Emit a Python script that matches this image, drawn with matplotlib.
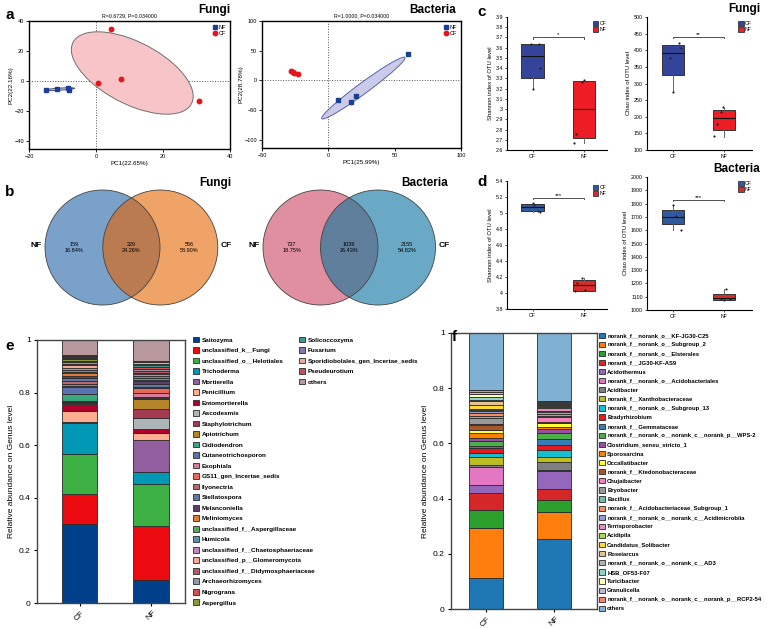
import numpy as np
import matplotlib.pyplot as plt
from matplotlib.patches import Ellipse, Circle, Patch

plt.rcParams['font.family'] = ['Liberation Sans', 'DejaVu Sans']

W, H = 767, 628

# ---------------- data ----------------
# a: PCA scores
fungi_nf_pc = np.array([[-15, -6], [-11.6, -5.1], [-8.5, -4.4], [-8, -5.5]])
fungi_cf_pc = np.array([[4.6, 34.4], [0.7, -0.9], [7.4, 1.3], [30.6, -12.9]])
bact_nf_pc = np.array([[60.3, 44.6], [7.5, -33], [16.8, -37], [20.9, -26.5]])
bact_cf_pc = np.array([[-28.5, 15], [-27, 13.5], [-26, 12.5], [-22.5, 10.8]])

# b: venn counts (NF only, shared, CF only)
fungi_venn = [159, 229, 556]
bact_venn = [737, 1039, 2155]

# c/d: box stats (q1, med, q3, whislo, whishi) and sample points
groups = ["CF", "NF"]
fungi_shannon_box = [[3.30, 3.52, 3.635, 3.20, 3.64], [2.715, 3.005, 3.27, 2.67, 3.28]]
fungi_shannon_pts = [[3.64, 3.64, 3.40, 3.20], [3.28, 3.265, 2.755, 2.67]]
fungi_chao_box = [[326, 391, 416, 275, 416], [160, 195, 221, 140, 225]]
fungi_chao_pts = [[422, 407, 376, 275], [230, 213, 178, 141]]
bact_shannon_box = [[5.03, 5.075, 5.11, 5.01, 5.12], [4.03, 4.10, 4.165, 4.02, 4.19]]
bact_shannon_pts = [[5.12, 5.10, 5.02, 5.01], [4.19, 4.13, 4.04, 4.025]]
bact_chao_box = [[1648, 1703, 1749, 1603, 1789], [1075, 1090, 1118, 1075, 1158]]
bact_chao_pts = [[1789, 1709, 1699, 1603], [1158, 1083, 1078, 1080]]
signif = ["*", "**", "***", "***"]

# e: fungal genera
fungi_genera = ["Saitozyma", "unclassified_k__Fungi", "unclassified_o__Helotiales", "Trichoderma",
                "Mortierella", "Penicillium", "Entomortierella", "Ascodesmis", "Staphylotrichum",
                "Apiotrichum", "Oidiodendron", "Cutaneotrichosporon", "Exophiala",
                "GS11_gen_Incertae_sedis", "Ilyonectria", "Stellatospora", "Melanconiella",
                "Meliniomyces", "unclassified_f__Aspergillaceae", "Humicola",
                "unclassified_f__Chaetosphaeriaceae", "unclassified_p__Glomeromycota",
                "unclassified_f__Didymosphaeriaceae", "Archaeorhizomyces", "Nigrograna",
                "Aspergillus", "Solicoccozyma", "Fusarium", "Sporidiobolales_gen_Incertae_sedis",
                "Pseudeurotium", "others"]
fungi_cf = [0.302, 0.111, 0.153, 0.120, 0.002, 0.043, 0.025, 0.003, 0.006, 0.002, 0.029, 0.024,
            0.005, 0.006, 0.014, 0.012, 0.006, 0.011, 0.006, 0.006, 0.009, 0.009, 0.005, 0.006,
            0.005, 0.006, 0.004, 0.004, 0.004, 0.004, 0.058]
fungi_nf = [0.089, 0.203, 0.160, 0.045, 0.121, 0.028, 0.017, 0.042, 0.033, 0.039, 0.003, 0.005,
            0.015, 0.016, 0.007, 0.009, 0.011, 0.004, 0.007, 0.009, 0.006, 0.005, 0.007, 0.007,
            0.008, 0.003, 0.007, 0.004, 0.005, 0.007, 0.078]
fungi_colors = ["#003f8a", "#ea0a0f", "#3db043", "#0098b5", "#925e9f", "#fdae91", "#ad002a",
                "#adb6b6", "#a33a52", "#b5852a", "#3aa67b", "#5a72b0", "#d47c99", "#e8685a",
                "#b8696a", "#6278a8", "#5b3f6b", "#e07b39", "#58a866", "#5a90b0", "#b889b8",
                "#f4a79a", "#b05a6a", "#8e98aa", "#d45050", "#8a9a38", "#3f9a94", "#8a75b0",
                "#eaa8a8", "#c05060", "#b89a9e"]

# f: bacterial genera
bact_genera = ["norank_f__norank_o__KF-JG30-C25", "norank_f__norank_o__Subgroup_2",
               "norank_f__norank_o__Elsterales", "norank_f__JG30-KF-AS9", "Acidothermus",
               "norank_f__norank_o__Acidobacteriales", "Acidibacter", "norank_f__Xanthobacteraceae",
               "norank_f__norank_o__Subgroup_13", "Bradyrhizobium", "norank_f__Gemmataceae",
               "norank_f__norank_o__norank_c__norank_p__WPS-2", "Clostridium_sensu_stricto_1",
               "Sporosarcina", "Occallatibacter", "norank_f__Ktedonobacteraceae", "Chujaibacter",
               "Bryobacter", "Bacillus", "norank_f__Acidobacteriaceae_Subgroup_1",
               "norank_f__norank_o__norank_c__Acidimicrobiia", "Terrisporobacter", "Acidipila",
               "Candidatus_Solibacter", "Roseiarcus", "norank_f__norank_o__norank_c__AD3",
               "HSB_OF53-F07", "Turicibacter", "Granulicella",
               "norank_f__norank_o__norank_c__norank_p__RCP2-54", "others"]
bact_cf = [0.114, 0.181, 0.062, 0.063, 0.028, 0.065, 0.008, 0.029, 0.014, 0.020, 0.008, 0.016,
           0.010, 0.020, 0.011, 0.018, 0.004, 0.020, 0.010, 0.008, 0.008, 0.003, 0.004, 0.016,
           0.014, 0.004, 0.010, 0.010, 0.008, 0.006, 0.208]
bact_nf = [0.254, 0.098, 0.043, 0.041, 0.065, 0.002, 0.031, 0.018, 0.024, 0.017, 0.024, 0.019,
           0.015, 0.008, 0.014, 0.004, 0.018, 0.004, 0.008, 0.007, 0.004, 0.009, 0.006, 0.004,
           0.003, 0.004, 0.003, 0.002, 0.004, 0.002, 0.245]
bact_colors = ["#1f77b4", "#ff7f0e", "#2ca02c", "#d62728", "#9467bd", "#e377c2", "#7f7f7f",
               "#bcbd22", "#17becf", "#e41a1c", "#377eb8", "#4daf4a", "#984ea3", "#ff7f00",
               "#ffff33", "#a65628", "#f781bf", "#999999", "#66c2a5", "#fc8d62", "#8da0cb",
               "#e78ac3", "#a6d854", "#ffd92f", "#e5c494", "#b3b3b3", "#8dd3c7", "#ffffb3",
               "#bebada", "#fb8072", "#80b1d3"]


def ax_px(l, t, r, b):
    return fig.add_axes([l / W, 1 - b / H, (r - l) / W, (b - t) / H])


def conf_ellipse(ax, pts, fc, ec, k=1.35):
    c = pts.mean(axis=0)
    vals, vecs = np.linalg.eigh(np.cov(pts.T))
    ang = np.degrees(np.arctan2(vecs[1, 1], vecs[0, 1]))
    e = Ellipse(c, 2 * k * np.sqrt(vals[1]), 2 * k * np.sqrt(vals[0]), angle=ang,
                facecolor=fc, edgecolor=ec, lw=0.7, zorder=1)
    ax.add_patch(e)


fig = plt.figure(figsize=(W / 100, H / 100), dpi=100)

# ---------------- a ----------------
pca_sets = [
    ((29, 21, 230, 149), fungi_nf_pc, fungi_cf_pc, (-20, 40), (-45, 40), [-20, 0, 20, 40],
     [-40, -20, 0, 20, 40], "PC1(22.65%)", "PC2(22.16%)", "R=0.6729, P=0.034000",
     ("#c6cbe0", "#4a5070"), ("#f7c5c8", "#707070")),
    ((262, 21, 461, 148), bact_nf_pc, bact_cf_pc, (-50, 100), (-114, 100), [-50, 0, 50, 100],
     [-100, -50, 0, 50, 100], "PC1(25.99%)", "PC2(28.78%)", "R=1.0000, P=0.034000",
     ("#c9cbe9", "#5b62ad"), ("#f0c0c5", "#a05060")),
]
for box, nf, cf, xl, yl, xt, yt, xlab, ylab, ttl, nf_el, cf_el in pca_sets:
    ax = ax_px(*box)
    conf_ellipse(ax, nf, *nf_el)
    conf_ellipse(ax, cf, *cf_el)
    ax.axhline(0, color="#555555", ls=":", lw=0.7, zorder=0)
    ax.axvline(0, color="#555555", ls=":", lw=0.7, zorder=0)
    ax.plot(nf[:, 0], nf[:, 1], "s", color="#1c3f94", ms=3, label="NF", zorder=3)
    ax.plot(cf[:, 0], cf[:, 1], "o", color="#e8141b", ms=3.2, label="CF", zorder=3)
    ax.set_xlim(*xl)
    ax.set_ylim(*yl)
    ax.set_xticks(xt)
    ax.set_yticks(yt)
    ax.tick_params(labelsize=4, length=2, width=0.6, pad=1.5)
    ax.set_xlabel(xlab, fontsize=4.5, labelpad=1.5)
    ax.set_ylabel(ylab, fontsize=4.5, labelpad=1)
    ax.set_title(ttl, fontsize=3.8, pad=3)
    for s in ax.spines.values():
        s.set_linewidth(1.0)
    ax.legend(loc="upper right", fontsize=4, frameon=False, handletextpad=0.1,
              borderaxespad=0.3, labelspacing=0.2, handlelength=1)

# ---------------- b ----------------
axv = ax_px(0, 170, 460, 330)
axv.set_xlim(0, 460)
axv.set_ylim(330, 170)
axv.set_aspect("equal")
axv.axis("off")
venn_sets = [(fungi_venn, 102.5, 160.3, "#7aa1c9", "#efa366", "#b97b4f"),
             (bact_venn, 320.5, 378, "#df8f9f", "#69a9c6", "#5f7f9c")]
for counts, x1, x2, c1, c2, c12 in venn_sets:
    cy, r = 247.5, 57.5
    total = sum(counts)
    circ1 = Circle((x1, cy), r, facecolor=c1, edgecolor="none")
    circ2 = Circle((x2, cy), r, facecolor=c2, edgecolor="none")
    axv.add_patch(circ1)
    axv.add_patch(circ2)
    inter = Circle((x2, cy), r, facecolor=c12, edgecolor="none")
    axv.add_patch(inter)
    inter.set_clip_path(circ1)
    for xc in (x1, x2):
        axv.add_patch(Circle((xc, cy), r, fill=False, edgecolor="#444444", lw=0.6))
    xs = [(x1 - r + x2 - r) / 2, (x1 + x2) / 2, (x1 + r + x2 + r) / 2]
    for xx, n in zip(xs, counts):
        axv.text(xx, cy, f"{n}\n{n / total * 100:.2f}%", ha="center", va="center",
                 fontsize=4, linespacing=1.1)
    axv.text(x1 - r - 3, cy - 2, "NF", ha="right", va="center", fontsize=6, weight="bold")
    axv.text(x2 + r + 3, cy - 2, "CF", ha="left", va="center", fontsize=6, weight="bold")

# ---------------- c / d ----------------
box_sets = [
    ((507, 17, 607, 150), fungi_shannon_box, fungi_shannon_pts, (2.6, 3.9), np.arange(2.6, 3.95, 0.1),
     "Shannon index of OTU level", 3.70, 0.012, [[-0.04, 0.12, 0.15, 0.0], [0.01, -0.03, -0.15, -0.2]],
     ("#34449a", "#ee1c24"), (0.5, 2.45)),
    ((647, 17, 752, 150), fungi_chao_box, fungi_chao_pts, (100, 500), np.arange(100, 501, 50),
     "Chao index of OTU level", 440, 4, [[0.12, 0.16, -0.06, 0.0], [-0.01, -0.05, -0.14, -0.2]],
     ("#34449a", "#ee1c24"), (0.49, 2.55)),
    ((507, 181, 607, 309), bact_shannon_box, bact_shannon_pts, (3.8, 5.4), np.arange(3.8, 5.45, 0.2),
     "Shannon index of OTU level", 5.19, 0.015, [[0.0, 0.03, 0.11, 0.15], [-0.03, -0.13, 0.02, -0.17]],
     ("#2f5a9e", "#d62c2c"), (0.5, 2.45)),
    ((647, 177, 752, 310), bact_chao_box, bact_chao_pts, (1000, 2000), np.arange(1000, 2001, 100),
     "Chao index of OTU level", 1830, 10, [[0.0, 0.05, 0.19, 0.16], [0.04, -0.06, 0.0, 0.12]],
     ("#2f5a9e", "#d62c2c"), (0.49, 2.55)),
]
for i, (box, bstats, pts, yl, yt, ylab, sy, tick, jit, cols, xl) in enumerate(box_sets):
    ax = ax_px(*box)
    stats = [dict(q1=b[0], med=b[1], q3=b[2], whislo=b[3], whishi=b[4]) for b in bstats]
    bp = ax.bxp(stats, positions=[1, 2], widths=0.44, patch_artist=True, showfliers=False,
                showcaps=False, boxprops=dict(lw=0.7, edgecolor="#333333"),
                medianprops=dict(color="#111111", lw=0.8),
                whiskerprops=dict(color="#666666", lw=0.7))
    for patch, c in zip(bp["boxes"], cols):
        patch.set_facecolor(c)
    for j in range(2):
        ax.scatter(np.array(jit[j]) + j + 1, pts[j], s=2.5, color="#222222", zorder=4, lw=0)
    ax.plot([1, 1, 2, 2], [sy - tick, sy, sy, sy - tick], color="#333333", lw=0.6)
    ax.text(1.5, sy, signif[i], ha="center", va="bottom", fontsize=4.5)
    ax.set_ylim(*yl)
    ax.set_xlim(*xl)
    ax.set_yticks(yt)
    ax.set_yticklabels([f"{v:g}" for v in np.round(yt, 2)])
    ax.set_xticks([1, 2])
    ax.set_xticklabels(groups)
    ax.tick_params(labelsize=3.8, length=1.5, width=0.5, pad=1.5)
    ax.set_ylabel(ylab, fontsize=4.2, labelpad=2)
    ax.spines[["top", "right"]].set_visible(False)
    ax.spines[["left", "bottom"]].set_linewidth(0.8)
    handles = [Patch(facecolor=c, edgecolor="#333333", lw=0.6, label=g) for g, c in zip(groups, cols)]
    ax.legend(handles=handles, loc="upper right", fontsize=3.8, frameon=False, handlelength=1,
              handleheight=1, handletextpad=0.2, labelspacing=0.2, borderaxespad=0.1,
              bbox_to_anchor=(1.02, 0.99))


# ---------------- e ----------------
def stacked(ax, vals_cf, vals_nf, colors):
    bottoms = np.zeros(2)
    handles = []
    for a, b, c in zip(vals_cf, vals_nf, colors):
        h = ax.bar([0, 1], [a, b], bottom=bottoms, width=0.5, color=c, edgecolor="#2a2a2a", lw=0.6)
        bottoms += [a, b]
        handles.append(h)
    ax.set_ylim(0, 1)
    ax.set_yticks(np.arange(0, 1.01, 0.2))
    ax.set_yticklabels([f"{v:g}" for v in np.round(np.arange(0, 1.01, 0.2), 1)])
    ax.set_xticks([0, 1])
    ax.set_xticklabels(groups, rotation=45)
    ax.tick_params(labelsize=6, length=2.5, width=0.8, pad=2)
    ax.set_ylabel("Relative abundance on Genus level", fontsize=6, labelpad=3)
    for s in ax.spines.values():
        s.set_linewidth(1.0)
        s.set_color("#444444")
    return handles


axe = ax_px(37, 340, 185, 603)
he = stacked(axe, fungi_cf, fungi_nf, fungi_colors)
axe.set_xlim(-0.6, 1.48)
leg_kw = dict(frameon=False, handlelength=1.0, handleheight=1.0, handletextpad=0.4,
              borderpad=0, borderaxespad=0, loc="upper left")
fig.legend(he[:26], fungi_genera[:26], bbox_to_anchor=(193 / W, 1 - 336.5 / H),
           prop=dict(size=4.6, weight="bold"), labelspacing=0.7, **leg_kw)
fig.legend(he[26:], fungi_genera[26:], bbox_to_anchor=(299 / W, 1 - 336.5 / H),
           prop=dict(size=4.6, weight="bold"), labelspacing=0.7, **leg_kw)

# ---------------- f ----------------
axf = ax_px(451, 333, 597, 609)
hf = stacked(axf, bact_cf, bact_nf, bact_colors)
axf.set_xlim(-0.51, 1.63)
fig.legend(hf, bact_genera, bbox_to_anchor=(599 / W, 1 - 332.5 / H),
           prop=dict(size=4.2, weight="bold"), labelspacing=0.6, **leg_kw)

# ---------------- labels ----------------
for x, y, s in [(5, 15, "a"), (5, 192, "b"), (477, 12, "c"), (477, 182, "d"), (5, 346, "e"),
                (452, 337, "f")]:
    fig.text(x / W, 1 - y / H, s, fontsize=11, weight="bold", ha="left", va="center")
for x, y, s in [(230, 10, "Fungi"), (456, 10, "Bacteria"), (231, 183, "Fungi"), (448, 183, "Bacteria"),
                (760, 9, "Fungi"), (760, 169, "Bacteria")]:
    fig.text(x / W, 1 - y / H, s, fontsize=8.5, weight="bold", ha="right", va="center")

fig.savefig("out.png", dpi=100)
